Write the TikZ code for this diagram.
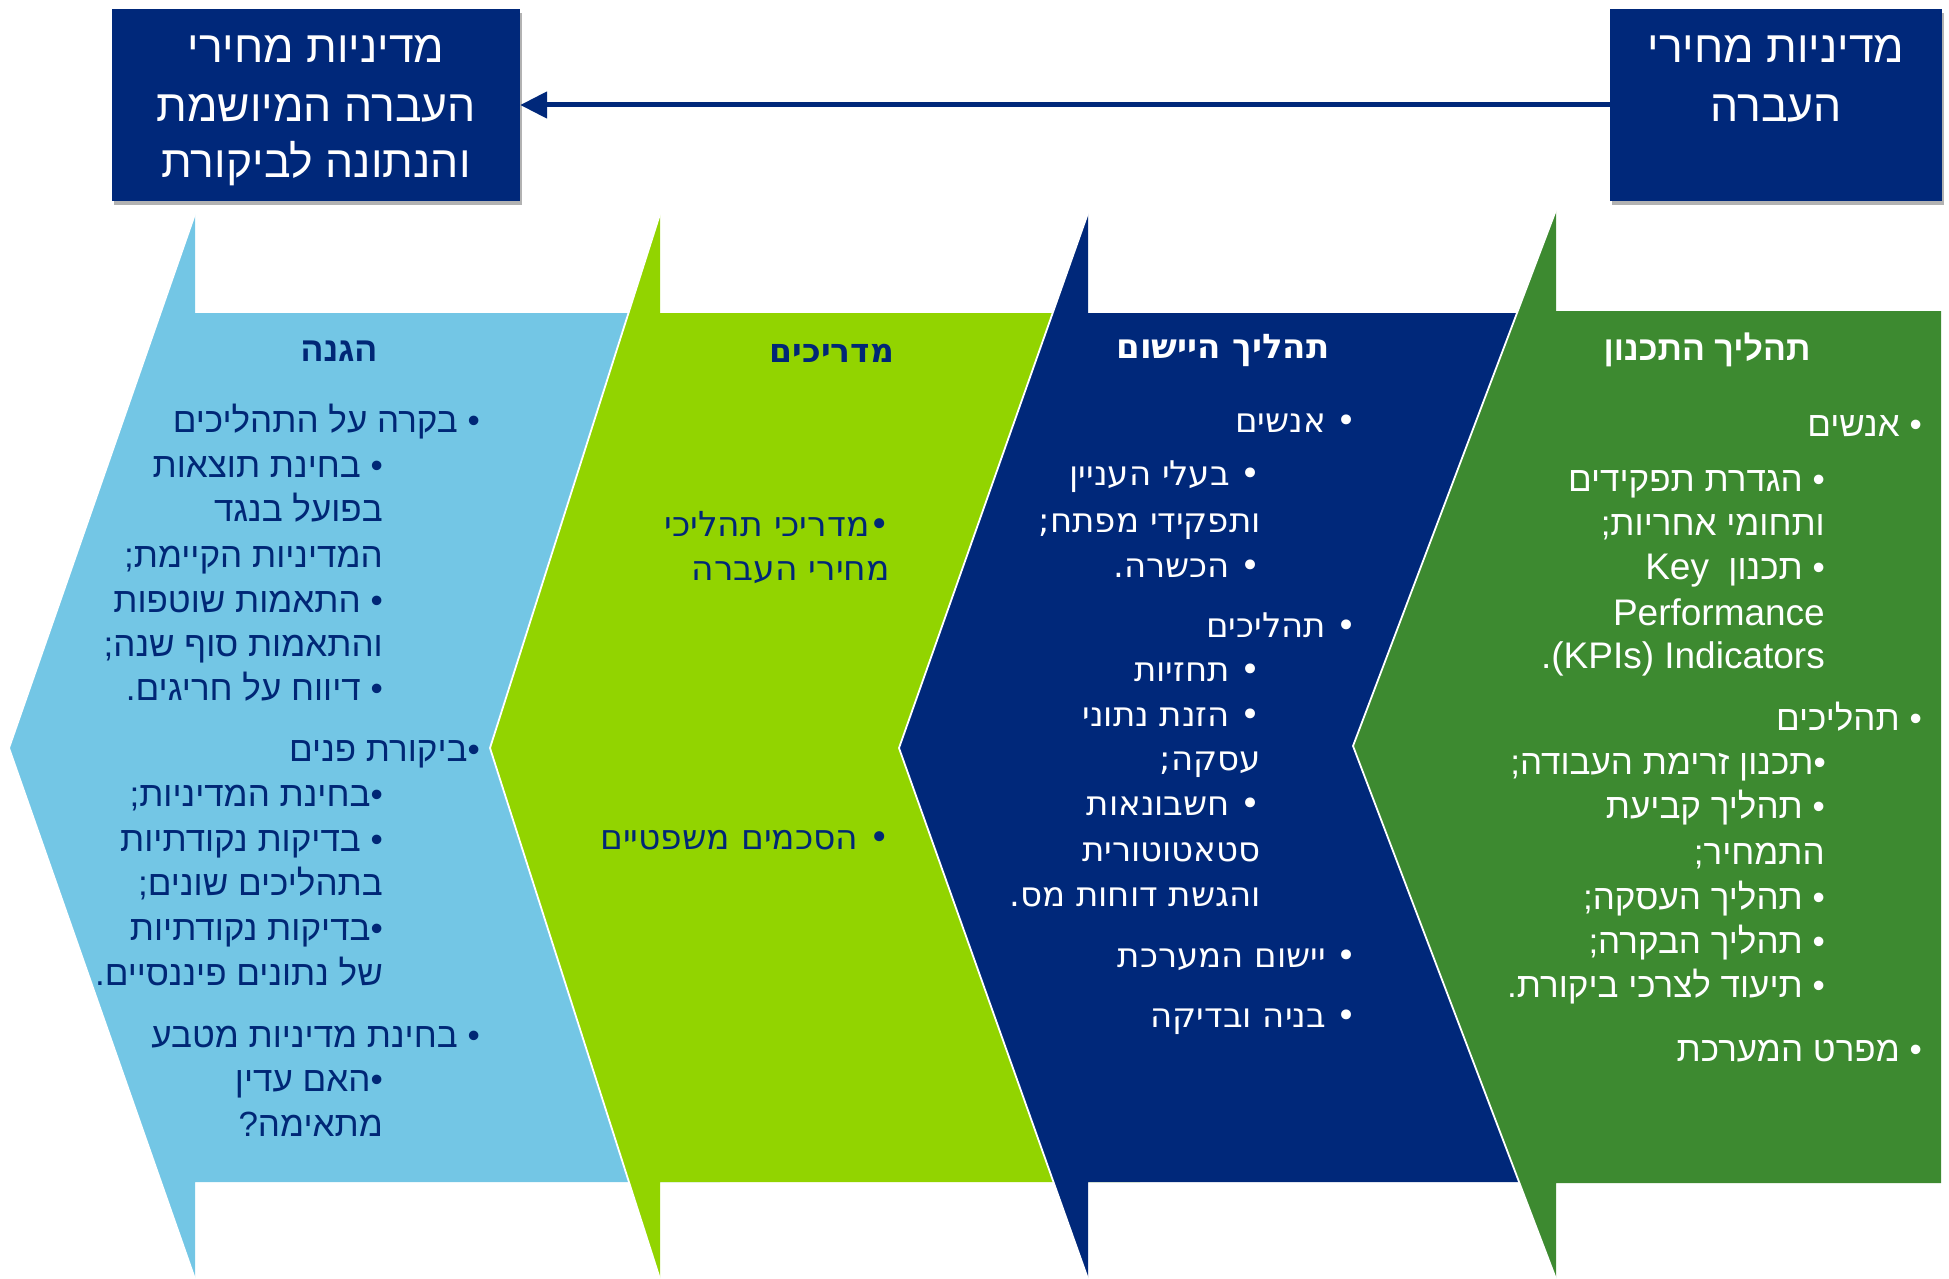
\documentclass[tikz,border=0pt]{standalone}
\usepackage{fontspec}
\usetikzlibrary{arrows.meta,shadows}
\TeXXeTstate=1
\newfontfamily\hebA[Script=Hebrew]{Liberation Sans}
\newfontfamily\hebD[Script=Hebrew]{DejaVu Sans}
\definecolor{navy}{HTML}{00287A}
\definecolor{lblue}{HTML}{73C6E5}
\definecolor{lgreen}{HTML}{92D400}
\definecolor{dgreen}{HTML}{3D8A30}
\definecolor{txtnavy}{HTML}{002776}
\newcommand\rtl[1]{\beginR #1\endR}
\begin{document}
\begin{tikzpicture}[x=1pt,y=-1pt,
  edge/.style={draw=white, line width=1.8pt, line cap=butt},
  topbox/.style={rectangle, fill=navy, inner sep=0pt, draw=none,
     drop shadow={shadow xshift=2pt, shadow yshift=-4pt, opacity=0.3, fill=black}},
  toptx/.style={anchor=base, inner sep=0pt, text=white, font=\hebA\fontsize{44.5}{50}\selectfont},
  gtx/.style={anchor=base east, inner sep=0pt, text=white, font=\hebA\fontsize{35}{40}\selectfont},
  glat/.style={gtx, font=\hebA\fontsize{37}{40}\selectfont},
  ghd/.style={anchor=base, inner sep=0pt, text=white, font=\hebA\bfseries\fontsize{34}{40}\selectfont},
  ntx/.style={anchor=base east, inner sep=0pt, text=white, font=\hebD\fontsize{34}{40}\selectfont},
  nhd/.style={anchor=base, inner sep=0pt, text=white, font=\hebD\bfseries\fontsize{34}{40}\selectfont},
  lgtx/.style={anchor=base east, inner sep=0pt, text=txtnavy, font=\hebD\fontsize{34.5}{40}\selectfont},
  lghd/.style={anchor=base, inner sep=0pt, text=txtnavy, font=\hebD\bfseries\fontsize{33}{40}\selectfont},
  btx/.style={anchor=base east, inner sep=0pt, text=txtnavy, font=\hebA\fontsize{35}{40}\selectfont},
  bhd/.style={anchor=base, inner sep=0pt, text=txtnavy, font=\hebA\bfseries\fontsize{34}{40}\selectfont},
  flow/.style={draw=navy, line width=5pt, -{Triangle[length=27pt,width=26pt]}}
]
\useasboundingbox (0,0) rectangle (1949,1279);

% chevron panels (drawn left to right so each overlaps the previous)
\fill[lblue] (195,313) -- (195,214) -- (9,748) -- (195,1279) -- (195,1182) -- (720,1182) -- (720,313) -- cycle;
\draw[edge] (195,214) -- (9,748) -- (195,1279);
\fill[lgreen] (660,313) -- (660,214) -- (490,748) -- (660,1279) -- (660,1182) -- (1140,1182) -- (1140,313) -- cycle;
\draw[edge] (660,214) -- (490,748) -- (660,1279);
\fill[navy] (1088,313) -- (1088,213) -- (899,748) -- (1088,1279) -- (1088,1182) -- (1600,1182) -- (1600,313) -- cycle;
\draw[edge] (1088,213) -- (899,748) -- (1088,1279);
\fill[dgreen] (1556,311) -- (1556,210) -- (1353,746) -- (1556,1279) -- (1556,1183) -- (1941,1183) -- (1941,311) -- cycle;
\draw[edge] (1556,210) -- (1353,746) -- (1556,1279);

% top boxes
\node[topbox, minimum width=408pt, minimum height=192pt] (dst) at (316,105) {};
\node[topbox, minimum width=332pt, minimum height=192pt] (src) at (1776,105) {};
\node[toptx] (d1) at (316,63) {\rtl{מדיניות מחירי}};
\node[toptx] (d2) at (316,122) {\rtl{העברה המיושמת}};
\node[toptx] (d3) at (316,178) {\rtl{והנתונה לביקורת}};
\node[toptx] (s1) at (1776,63) {\rtl{מדיניות מחירי}};
\node[toptx] (s2) at (1776,122) {\rtl{העברה}};
\draw[flow] (src.west) -- (dst.east);

% green panel
\node[ghd] (gh) at (1707,360) {\rtl{תהליך התכנון}};
\node[gtx] (g1) at (1922,436) {\rtl{• אנשים}};
\node[gtx] (g2) at (1825,491) {\rtl{• הגדרת תפקידים}};
\node[gtx] (g3) at (1825,535) {\rtl{ותחומי אחריות;}};
\node[gtx] (g4) at (1825,579) {{\fontsize{37}{40}\selectfont Key}\ \ \rtl{• תכנון}};
\node[glat] (g5) at (1825,625) {Performance};
\node[glat] (g6) at (1825,668) {.(KPIs) Indicators};
\node[gtx] (g7) at (1922,730) {\rtl{• תהליכים}};
\node[gtx] (g8) at (1826,774) {\rtl{•תכנון זרימת העבודה;}};
\node[gtx] (g9) at (1825,818) {\rtl{• תהליך קביעת}};
\node[gtx] (g10) at (1825,864) {\rtl{התמחיר;}};
\node[gtx] (g11) at (1825,909) {\rtl{• תהליך העסקה;}};
\node[gtx] (g12) at (1825,953) {\rtl{• תהליך הבקרה;}};
\node[gtx] (g13) at (1825,997) {\rtl{• תיעוד לצרכי ביקורת.}};
\node[gtx] (g14) at (1922,1061) {\rtl{• מפרט המערכת}};

% navy panel
\node[nhd] (nh) at (1223,358) {\rtl{תהליך היישום}};
\node[ntx] (n1) at (1357,432) {\rtl{• אנשים}};
\node[ntx] (n2) at (1261,485) {\rtl{• בעלי העניין}};
\node[ntx] (n3) at (1261,532) {\rtl{ותפקידי מפתח;}};
\node[ntx] (n4) at (1261,577) {\rtl{• הכשרה.}};
\node[ntx] (n5) at (1357,637) {\rtl{• תהליכים}};
\node[ntx] (n6) at (1261,681) {\rtl{• תחזיות}};
\node[ntx] (n7) at (1261,726) {\rtl{• הזנת נתוני}};
\node[ntx] (n8) at (1261,770) {\rtl{עסקה;}};
\node[ntx] (n9) at (1261,815) {\rtl{• חשבונאות}};
\node[ntx] (n10) at (1261,861) {\rtl{סטאטוטורית}};
\node[ntx] (n11) at (1261,906) {\rtl{והגשת דוחות מס.}};
\node[ntx] (n12) at (1357,967) {\rtl{• יישום המערכת}};
\node[ntx] (n13) at (1357,1027) {\rtl{• בניה ובדיקה}};

% light green panel
\node[lghd] (lgh) at (832,362) {\rtl{מדריכים}};
\node[lgtx] (lg1) at (890,536) {\rtl{•מדריכי תהליכי}};
\node[lgtx] (lg2) at (890,580) {\rtl{מחירי העברה}};
\node[lgtx] (lg3) at (890,849) {\rtl{• הסכמים משפטיים}};

% light blue panel
\node[bhd] (bh) at (339,361) {\rtl{הגנה}};
\node[btx] (b1) at (480,432) {\rtl{• בקרה על התהליכים}};
\node[btx] (b2) at (383,477) {\rtl{• בחינת תוצאות}};
\node[btx] (b3) at (383,521) {\rtl{בפועל בנגד}};
\node[btx] (b4) at (383,567) {\rtl{המדיניות הקיימת;}};
\node[btx] (b5) at (383,612) {\rtl{• התאמות שוטפות}};
\node[btx] (b6) at (383,656) {\rtl{והתאמות סוף שנה;}};
\node[btx] (b7) at (383,700) {\rtl{• דיווח על חריגים.}};
\node[btx] (b8) at (480,761) {\rtl{•ביקורת פנים}};
\node[btx] (b9) at (383,806) {\rtl{•בחינת המדיניות;}};
\node[btx] (b10) at (383,851) {\rtl{• בדיקות נקודתיות}};
\node[btx] (b11) at (383,895) {\rtl{בתהליכים שונים;}};
\node[btx] (b12) at (383,940) {\rtl{•בדיקות נקודתיות}};
\node[btx] (b13) at (383,985) {\rtl{של נתונים פיננסיים.}};
\node[btx] (b14) at (480,1047) {\rtl{• בחינת מדיניות מטבע}};
\node[btx] (b15) at (383,1091) {\rtl{•האם עדין}};
\node[btx] (b16) at (383,1136) {\rtl{מתאימה?}};
\end{tikzpicture}
\end{document}
